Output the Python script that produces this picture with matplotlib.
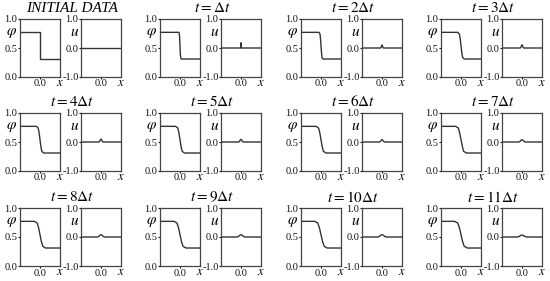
import matplotlib
matplotlib.use("Agg")
import matplotlib.pyplot as plt

plt.rcParams['font.family'] = ['Liberation Serif', 'DejaVu Serif']
plt.rcParams['mathtext.fontset'] = 'stix'

titles = ["INITIAL DATA", r"$t = \Delta t$", r"$t = 2\Delta t$", r"$t = 3\Delta t$",
          r"$t = 4\Delta t$", r"$t = 5\Delta t$", r"$t = 6\Delta t$", r"$t = 7\Delta t$",
          r"$t = 8\Delta t$", r"$t = 9\Delta t$", r"$t = 10\Delta t$", r"$t = 11\Delta t$"]

phi_prof = [0.77, 0.77, 0.74, 0.66, 0.54, 0.42, 0.34, 0.31, 0.31]
phi_x = [
    [-1, 0, 0, 1],
    [-1, -0.05, -0.02, 0, 0.02, 0.05, 1],
    [-1, -0.1, -0.05, -0.025, 0, 0.025, 0.05, 0.1, 1],
    [-1, -0.16, -0.08, -0.04, 0, 0.04, 0.08, 0.16, 1],
    [-1, -0.18, -0.09, -0.045, 0, 0.045, 0.09, 0.18, 1],
    [-1, -0.22, -0.11, -0.055, 0, 0.055, 0.11, 0.22, 1],
    [-1, -0.25, -0.12, -0.06, 0, 0.06, 0.12, 0.25, 1],
    [-1, -0.27, -0.13, -0.07, 0, 0.07, 0.13, 0.27, 1],
    [-1, -0.28, -0.14, -0.07, 0, 0.07, 0.14, 0.28, 1],
    [-1, -0.3, -0.15, -0.075, 0, 0.075, 0.15, 0.3, 1],
    [-1, -0.31, -0.16, -0.08, 0, 0.08, 0.16, 0.31, 1],
    [-1, -0.32, -0.16, -0.08, 0, 0.08, 0.16, 0.32, 1],
]
phi_y = [
    [0.77, 0.77, 0.31, 0.31],
    [0.77, 0.77, 0.7, 0.54, 0.38, 0.31, 0.31],
] + [phi_prof] * 10

u_x = [
    [-1, 1],
    [-1, -0.02, 0, 0.02, 1],
    [-1, -0.07, -0.04, -0.02, 0, 0.02, 0.04, 0.07, 1],
    [-1, -0.09, -0.05, -0.03, 0, 0.03, 0.05, 0.09, 1],
    [-1, -0.1, -0.06, -0.03, 0, 0.03, 0.06, 0.1, 1],
    [-1, -0.12, -0.07, -0.04, 0, 0.04, 0.07, 0.12, 1],
    [-1, -0.14, -0.08, -0.04, 0, 0.04, 0.08, 0.14, 1],
    [-1, -0.16, -0.1, -0.05, 0, 0.05, 0.1, 0.16, 1],
    [-1, -0.18, -0.11, -0.05, 0, 0.05, 0.11, 0.18, 1],
    [-1, -0.2, -0.12, -0.06, 0, 0.06, 0.12, 0.2, 1],
    [-1, -0.22, -0.13, -0.07, 0, 0.07, 0.13, 0.22, 1],
    [-1, -0.24, -0.14, -0.07, 0, 0.07, 0.14, 0.24, 1],
]
u_y = [
    [0, 0],
    [0, 0, 0.18, 0, 0],
    [0, 0, 0.03, 0.08, 0.1, 0.08, 0.03, 0, 0],
    [0, 0, 0.03, 0.08, 0.11, 0.08, 0.03, 0, 0],
    [0, 0, 0.03, 0.08, 0.1, 0.08, 0.03, 0, 0],
    [0, 0, 0.02, 0.07, 0.09, 0.07, 0.02, 0, 0],
    [0, 0, 0.02, 0.06, 0.08, 0.06, 0.02, 0, 0],
    [0, 0, 0.02, 0.06, 0.08, 0.06, 0.02, 0, 0],
    [0, 0, 0.02, 0.06, 0.08, 0.06, 0.02, 0, 0],
    [0, 0, 0.02, 0.06, 0.08, 0.06, 0.02, 0, 0],
    [0, 0, 0.02, 0.06, 0.08, 0.06, 0.02, 0, 0],
    [0, 0, 0.02, 0.05, 0.07, 0.05, 0.02, 0, 0],
]

phi_ticks = [0.0, 0.5, 1.0]
phi_labels = ["0.0", "0.5", "1.0"]
u_ticks = [-1.0, 0.0, 1.0]
u_labels = ["-1.0", "0.0", "1.0"]

W, H = 550, 281
fig = plt.figure(figsize=(W / 100, H / 100), dpi=100)

row_top = [19, 113, 208]
group_left = [20, 160, 301, 441]
aw, ah = 40, 58
lc = '#333333'


def style(ax, ticks, labels, ylim, name, nx):
    ax.set_xlim(-1, 1)
    ax.set_ylim(*ylim)
    ax.set_xticks([0.0])
    ax.set_xticklabels(["0.0"])
    ax.set_yticks(ticks)
    ax.set_yticklabels(labels)
    ax.tick_params(length=1.5, width=0.8, pad=0.3, labelsize=7.5, colors='#111111')
    for s in ax.spines.values():
        s.set_color('#444444')
        s.set_linewidth(0.9)
    ax.text(nx, 0.76, name, transform=ax.transAxes, ha='center', va='center', fontsize=11)
    ax.text(0.99, -0.1, "$x$", transform=ax.transAxes, ha='center', va='center', fontsize=9)


for k in range(12):
    r, c = divmod(k, 4)
    top = row_top[r]
    left = group_left[c]
    b = 1 - (top + ah) / H
    ax1 = fig.add_axes([left / W, b, aw / W, ah / H])
    ax1.plot(phi_x[k], phi_y[k], color=lc, lw=1)
    style(ax1, phi_ticks, phi_labels, (0, 1), r"$\varphi$", -0.21)
    ax2 = fig.add_axes([(left + 61) / W, b, aw / W, ah / H])
    ax2.plot(u_x[k], u_y[k], color=lc, lw=1)
    style(ax2, u_ticks, u_labels, (-1, 1), "$u$", -0.15)
    fig.text((left + 52) / W, 1 - (top - 11) / H, titles[k], ha='center', va='center',
             fontsize=11, style='italic' if k == 0 else 'normal')

fig.savefig("out.png", dpi=100)
